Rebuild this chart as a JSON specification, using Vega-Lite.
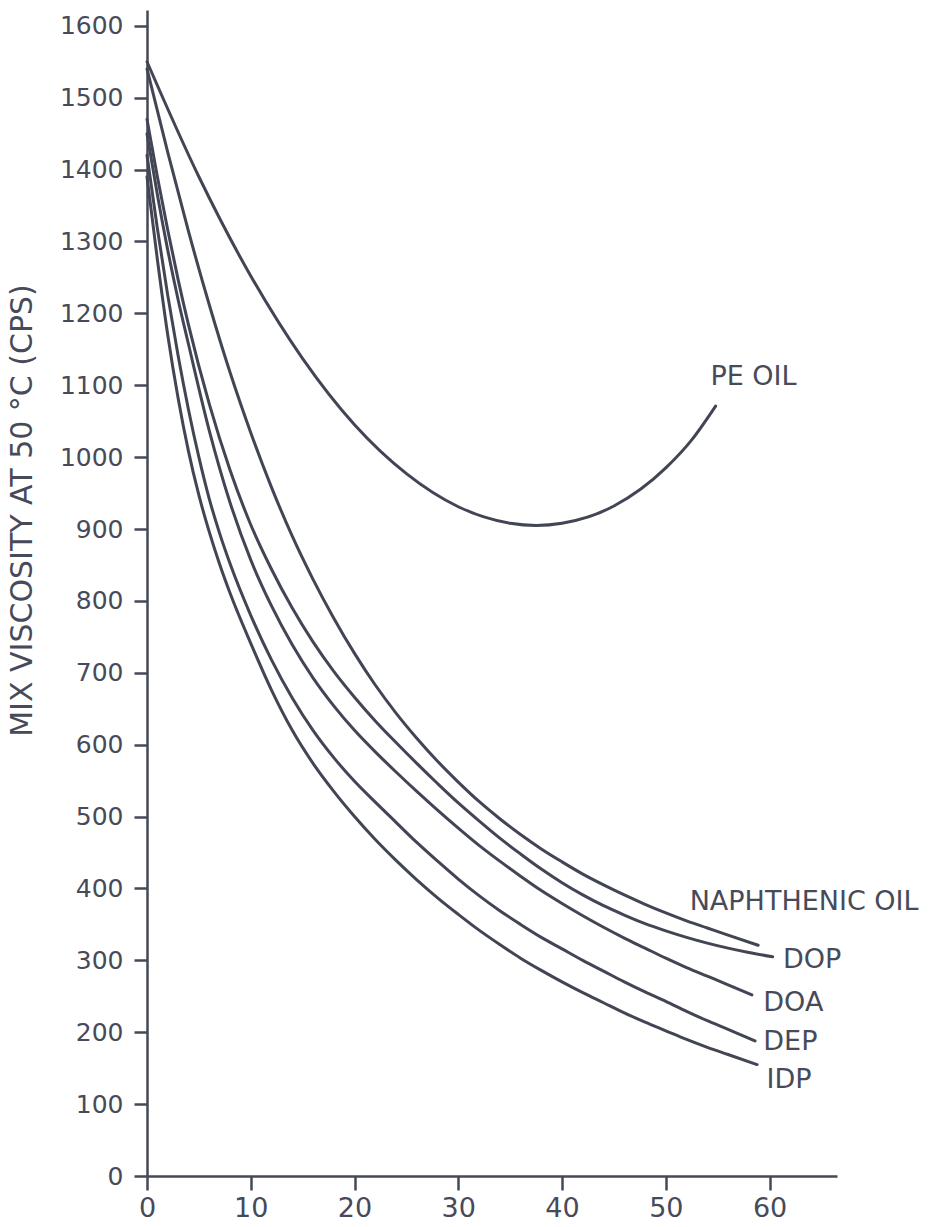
{
  "$schema": "https://vega.github.io/schema/vega-lite/v6.json",
  "autosize": "none",
  "width": 690,
  "height": 1166,
  "padding": {"left": 147, "top": 10, "right": 105, "bottom": 51},
  "background": "white",
  "config": {
    "view": {"stroke": null},
    "font": "DejaVu Sans",
    "axis": {
      "grid": false,
      "domainColor": "#454857",
      "domainWidth": 2.5,
      "tickColor": "#454857",
      "tickWidth": 2.5,
      "labelColor": "#474a59",
      "labelFont": "DejaVu Sans",
      "titleColor": "#474a59",
      "titleFont": "DejaVu Sans",
      "titleFontWeight": "normal"
    }
  },
  "datasets": {
    "curves": [
      {"series": "PE OIL", "x": 0, "y": 1550},
      {"series": "PE OIL", "x": 5, "y": 1390},
      {"series": "PE OIL", "x": 10, "y": 1252},
      {"series": "PE OIL", "x": 15, "y": 1137},
      {"series": "PE OIL", "x": 20, "y": 1045},
      {"series": "PE OIL", "x": 25, "y": 977},
      {"series": "PE OIL", "x": 30, "y": 931},
      {"series": "PE OIL", "x": 35, "y": 908},
      {"series": "PE OIL", "x": 37.5, "y": 905},
      {"series": "PE OIL", "x": 40, "y": 908},
      {"series": "PE OIL", "x": 45, "y": 932},
      {"series": "PE OIL", "x": 50, "y": 985},
      {"series": "PE OIL", "x": 52.5, "y": 1024},
      {"series": "PE OIL", "x": 54.8, "y": 1071},

      {"series": "NAPHTHENIC OIL", "x": 0, "y": 1540},
      {"series": "NAPHTHENIC OIL", "x": 2, "y": 1424},
      {"series": "NAPHTHENIC OIL", "x": 4, "y": 1314},
      {"series": "NAPHTHENIC OIL", "x": 6, "y": 1212},
      {"series": "NAPHTHENIC OIL", "x": 8, "y": 1118},
      {"series": "NAPHTHENIC OIL", "x": 10, "y": 1034},
      {"series": "NAPHTHENIC OIL", "x": 12, "y": 958},
      {"series": "NAPHTHENIC OIL", "x": 14, "y": 890},
      {"series": "NAPHTHENIC OIL", "x": 16, "y": 830},
      {"series": "NAPHTHENIC OIL", "x": 18, "y": 776},
      {"series": "NAPHTHENIC OIL", "x": 20, "y": 727},
      {"series": "NAPHTHENIC OIL", "x": 22, "y": 683},
      {"series": "NAPHTHENIC OIL", "x": 24, "y": 644},
      {"series": "NAPHTHENIC OIL", "x": 26, "y": 609},
      {"series": "NAPHTHENIC OIL", "x": 28, "y": 577},
      {"series": "NAPHTHENIC OIL", "x": 30, "y": 548},
      {"series": "NAPHTHENIC OIL", "x": 32, "y": 521},
      {"series": "NAPHTHENIC OIL", "x": 34, "y": 497},
      {"series": "NAPHTHENIC OIL", "x": 36, "y": 475},
      {"series": "NAPHTHENIC OIL", "x": 38, "y": 455},
      {"series": "NAPHTHENIC OIL", "x": 40, "y": 437},
      {"series": "NAPHTHENIC OIL", "x": 42, "y": 420},
      {"series": "NAPHTHENIC OIL", "x": 44, "y": 405},
      {"series": "NAPHTHENIC OIL", "x": 46, "y": 391},
      {"series": "NAPHTHENIC OIL", "x": 48, "y": 378},
      {"series": "NAPHTHENIC OIL", "x": 50, "y": 366},
      {"series": "NAPHTHENIC OIL", "x": 52, "y": 355},
      {"series": "NAPHTHENIC OIL", "x": 54, "y": 345},
      {"series": "NAPHTHENIC OIL", "x": 56, "y": 335},
      {"series": "NAPHTHENIC OIL", "x": 58.9, "y": 321},

      {"series": "DOP", "x": 0, "y": 1470},
      {"series": "DOP", "x": 1, "y": 1390},
      {"series": "DOP", "x": 2, "y": 1316},
      {"series": "DOP", "x": 3, "y": 1247},
      {"series": "DOP", "x": 4, "y": 1184},
      {"series": "DOP", "x": 6, "y": 1074},
      {"series": "DOP", "x": 8, "y": 982},
      {"series": "DOP", "x": 10, "y": 906},
      {"series": "DOP", "x": 12, "y": 844},
      {"series": "DOP", "x": 14, "y": 790},
      {"series": "DOP", "x": 16, "y": 743},
      {"series": "DOP", "x": 18, "y": 702},
      {"series": "DOP", "x": 20, "y": 666},
      {"series": "DOP", "x": 22, "y": 633},
      {"series": "DOP", "x": 24, "y": 603},
      {"series": "DOP", "x": 26, "y": 574},
      {"series": "DOP", "x": 28, "y": 546},
      {"series": "DOP", "x": 30, "y": 519},
      {"series": "DOP", "x": 32, "y": 494},
      {"series": "DOP", "x": 34, "y": 470},
      {"series": "DOP", "x": 36, "y": 448},
      {"series": "DOP", "x": 38, "y": 427},
      {"series": "DOP", "x": 40, "y": 408},
      {"series": "DOP", "x": 42, "y": 391},
      {"series": "DOP", "x": 44, "y": 376},
      {"series": "DOP", "x": 46, "y": 363},
      {"series": "DOP", "x": 48, "y": 351},
      {"series": "DOP", "x": 50, "y": 341},
      {"series": "DOP", "x": 52, "y": 332},
      {"series": "DOP", "x": 54, "y": 324},
      {"series": "DOP", "x": 56, "y": 317},
      {"series": "DOP", "x": 58, "y": 311},
      {"series": "DOP", "x": 60.3, "y": 305},

      {"series": "DOA", "x": 0, "y": 1450},
      {"series": "DOA", "x": 1, "y": 1365},
      {"series": "DOA", "x": 2, "y": 1288},
      {"series": "DOA", "x": 3, "y": 1219},
      {"series": "DOA", "x": 4, "y": 1157},
      {"series": "DOA", "x": 6, "y": 1037},
      {"series": "DOA", "x": 8, "y": 937},
      {"series": "DOA", "x": 10, "y": 857},
      {"series": "DOA", "x": 12, "y": 793},
      {"series": "DOA", "x": 14, "y": 739},
      {"series": "DOA", "x": 16, "y": 693},
      {"series": "DOA", "x": 18, "y": 654},
      {"series": "DOA", "x": 20, "y": 620},
      {"series": "DOA", "x": 22, "y": 590},
      {"series": "DOA", "x": 24, "y": 562},
      {"series": "DOA", "x": 26, "y": 535},
      {"series": "DOA", "x": 28, "y": 509},
      {"series": "DOA", "x": 30, "y": 484},
      {"series": "DOA", "x": 32, "y": 460},
      {"series": "DOA", "x": 34, "y": 438},
      {"series": "DOA", "x": 36, "y": 417},
      {"series": "DOA", "x": 38, "y": 397},
      {"series": "DOA", "x": 40, "y": 379},
      {"series": "DOA", "x": 42, "y": 362},
      {"series": "DOA", "x": 44, "y": 346},
      {"series": "DOA", "x": 46, "y": 331},
      {"series": "DOA", "x": 48, "y": 317},
      {"series": "DOA", "x": 50, "y": 303},
      {"series": "DOA", "x": 52, "y": 290},
      {"series": "DOA", "x": 54, "y": 278},
      {"series": "DOA", "x": 56, "y": 266},
      {"series": "DOA", "x": 58.3, "y": 252},

      {"series": "DEP", "x": 0, "y": 1420},
      {"series": "DEP", "x": 1, "y": 1318},
      {"series": "DEP", "x": 2, "y": 1225},
      {"series": "DEP", "x": 3, "y": 1141},
      {"series": "DEP", "x": 4, "y": 1066},
      {"series": "DEP", "x": 5, "y": 1000},
      {"series": "DEP", "x": 6, "y": 942},
      {"series": "DEP", "x": 7, "y": 894},
      {"series": "DEP", "x": 8, "y": 852},
      {"series": "DEP", "x": 10, "y": 780},
      {"series": "DEP", "x": 12, "y": 718},
      {"series": "DEP", "x": 14, "y": 665},
      {"series": "DEP", "x": 16, "y": 620},
      {"series": "DEP", "x": 18, "y": 582},
      {"series": "DEP", "x": 20, "y": 549},
      {"series": "DEP", "x": 22, "y": 520},
      {"series": "DEP", "x": 24, "y": 492},
      {"series": "DEP", "x": 26, "y": 464},
      {"series": "DEP", "x": 28, "y": 438},
      {"series": "DEP", "x": 30, "y": 413},
      {"series": "DEP", "x": 32, "y": 390},
      {"series": "DEP", "x": 34, "y": 369},
      {"series": "DEP", "x": 36, "y": 350},
      {"series": "DEP", "x": 38, "y": 332},
      {"series": "DEP", "x": 40, "y": 316},
      {"series": "DEP", "x": 42, "y": 300},
      {"series": "DEP", "x": 44, "y": 285},
      {"series": "DEP", "x": 46, "y": 270},
      {"series": "DEP", "x": 48, "y": 256},
      {"series": "DEP", "x": 50, "y": 243},
      {"series": "DEP", "x": 52, "y": 229},
      {"series": "DEP", "x": 54, "y": 216},
      {"series": "DEP", "x": 56, "y": 204},
      {"series": "DEP", "x": 58.6, "y": 188},

      {"series": "IDP", "x": 0, "y": 1390},
      {"series": "IDP", "x": 1, "y": 1275},
      {"series": "IDP", "x": 2, "y": 1170},
      {"series": "IDP", "x": 3, "y": 1082},
      {"series": "IDP", "x": 4, "y": 1008},
      {"series": "IDP", "x": 5, "y": 947},
      {"series": "IDP", "x": 6, "y": 896},
      {"series": "IDP", "x": 7, "y": 851},
      {"series": "IDP", "x": 8, "y": 811},
      {"series": "IDP", "x": 10, "y": 741},
      {"series": "IDP", "x": 12, "y": 676},
      {"series": "IDP", "x": 14, "y": 620},
      {"series": "IDP", "x": 16, "y": 574},
      {"series": "IDP", "x": 18, "y": 535},
      {"series": "IDP", "x": 20, "y": 500},
      {"series": "IDP", "x": 22, "y": 468},
      {"series": "IDP", "x": 24, "y": 439},
      {"series": "IDP", "x": 26, "y": 412},
      {"series": "IDP", "x": 28, "y": 387},
      {"series": "IDP", "x": 30, "y": 364},
      {"series": "IDP", "x": 32, "y": 342},
      {"series": "IDP", "x": 34, "y": 322},
      {"series": "IDP", "x": 36, "y": 303},
      {"series": "IDP", "x": 38, "y": 286},
      {"series": "IDP", "x": 40, "y": 270},
      {"series": "IDP", "x": 42, "y": 255},
      {"series": "IDP", "x": 44, "y": 241},
      {"series": "IDP", "x": 46, "y": 227},
      {"series": "IDP", "x": 48, "y": 214},
      {"series": "IDP", "x": 50, "y": 202},
      {"series": "IDP", "x": 52, "y": 190},
      {"series": "IDP", "x": 54, "y": 179},
      {"series": "IDP", "x": 56, "y": 169},
      {"series": "IDP", "x": 58.8, "y": 155}
    ],
    "labels": [
      {"label": "PE OIL", "x": 54.3, "y": 1111},
      {"label": "NAPHTHENIC OIL", "x": 52.3, "y": 381},
      {"label": "DOP", "x": 61.3, "y": 300},
      {"label": "DOA", "x": 59.4, "y": 240},
      {"label": "DEP", "x": 59.4, "y": 186},
      {"label": "IDP", "x": 59.7, "y": 133}
    ]
  },
  "layer": [
    {
      "data": {"name": "curves"},
      "mark": {"type": "line", "interpolate": "monotone", "color": "#424554", "strokeWidth": 3, "strokeCap": "round"},
      "encoding": {
        "x": {
          "field": "x", "type": "quantitative",
          "scale": {"domain": [0, 66.5], "nice": false, "zero": false},
          "axis": {"values": [0, 10, 20, 30, 40, 50, 60], "title": null, "tickSize": 14, "labelPadding": 5, "labelFontSize": 27, "labelFlush": false, "format": "d"}
        },
        "y": {
          "field": "y", "type": "quantitative",
          "scale": {"domain": [0, 1622], "nice": false},
          "axis": {
            "values": [0, 100, 200, 300, 400, 500, 600, 700, 800, 900, 1000, 1100, 1200, 1300, 1400, 1500, 1600],
            "format": "d",
            "labelFontSize": 25,
            "title": "MIX VISCOSITY AT 50 °C (CPS)",
            "titleFontSize": 30,
            "titleX": -125,
            "titleY": 500,
            "titleAngle": -90,
            "titleAlign": "center",
            "titleBaseline": "middle",
            "tickSize": 13,
            "labelPadding": 11,
            "labelFlush": false
          }
        },
        "detail": {"field": "series"}
      }
    },
    {
      "data": {"name": "labels"},
      "mark": {"type": "text", "align": "left", "baseline": "middle", "fontSize": 27, "color": "#474a59", "font": "DejaVu Sans"},
      "encoding": {
        "x": {"field": "x", "type": "quantitative"},
        "y": {"field": "y", "type": "quantitative"},
        "text": {"field": "label"}
      }
    }
  ]
}
